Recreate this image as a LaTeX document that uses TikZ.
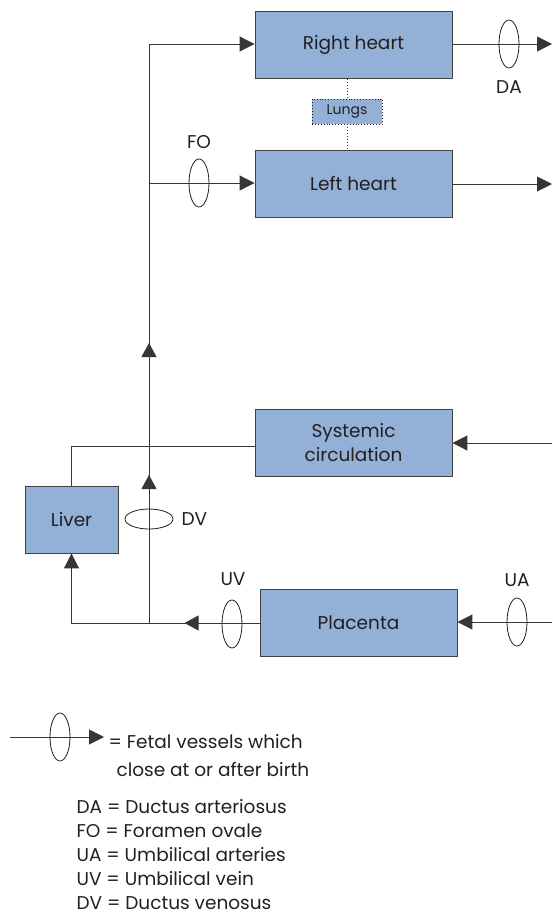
\documentclass[tikz,border=0pt]{standalone}
\usepackage{fontspec}
\setmainfont{Poppins}
\usetikzlibrary{arrows.meta,shapes.geometric,decorations.markings}

\definecolor{boxblue}{RGB}{147,176,214}
\definecolor{ink}{RGB}{35,31,32}

\begin{document}
\begin{tikzpicture}[
    x=1pt,
    y=-1pt,
    every node/.style={
        font=\fontsize{18.5}{24}\selectfont,
        text=ink
    },
    organ/.style={
        draw=ink!85,
        fill=boxblue,
        line width=0.9pt,
        inner sep=0pt,
        align=center,
        minimum width=197pt,
        minimum height=67pt
    },
    vessel/.style={
        draw=ink!90,
        line width=1pt
    },
    headed/.style={
        -{Triangle[length=15pt,width=15pt]}
    },
    midhead/.style={
        postaction={
            decorate,
            decoration={
                markings,
                mark=at position #1 with {\arrow{Triangle[length=14pt,width=15pt]}}
            }
        }
    },
    valve/.style={
        ellipse,
        draw=ink,
        line width=0.8pt,
        inner sep=0pt,
        minimum width=20pt,
        minimum height=48pt
    }
]

\useasboundingbox (0,0) rectangle (552,924);

% -------------------------------------------------
% Organs
% -------------------------------------------------

\node[organ] (rh) at (353.5,45) {Right heart};
\node[organ] (lh) at (353.5,183.5) {Left heart};
\node[organ, draw=ink, dotted, line width=0.8pt,
    minimum width=70pt, minimum height=25pt,
    font=\fontsize{14}{16}\selectfont] (lungs) at (347,111.5) {Lungs};
\node[organ] (sys) at (353.5,443) {Systemic\\circulation};
\node[organ, minimum width=93pt] (liver) at (71.5,519.5) {Liver};
\node[organ] (plac) at (358.5,622.5) {Placenta};

% -------------------------------------------------
% Corners and free ends
% -------------------------------------------------

\coordinate (top) at (149,44);
\coordinate (fo) at (149,183);
\coordinate (bot) at (149,623);
\coordinate (lcorner) at (71.5,623);
\coordinate (scorner) at (71.5,446);
\coordinate (rhout) at (552,44);
\coordinate (lhout) at (552,184);
\coordinate (sysin) at (552,443);
\coordinate (placin) at (552,622);

% -------------------------------------------------
% Vessels
% -------------------------------------------------

\draw[vessel, dotted] (rh.south -| lungs.north) -- (lungs.north);
\draw[vessel, dotted] (lungs.south) -- (lungs.south |- lh.north);

\draw[vessel, headed, midhead=148pt, midhead=280pt]
    (bot) -- (top) -- (rh.west |- top);
\draw[vessel, headed] (fo) -- (lh.west |- fo);

\draw[vessel, headed] (rh.east |- rhout) -- (rhout);
\draw[vessel, headed] (lh.east |- lhout) -- (lhout);

\draw[vessel, headed] (sysin) -- (sys.east |- sysin);
\draw[vessel] (sys.west |- scorner) -- (scorner) -- (liver.north);

\draw[vessel, headed] (placin) -- (plac.east |- placin);
\draw[vessel, headed, midhead=75pt]
    (plac.west |- bot) -- (lcorner) -- (liver.south);

% -------------------------------------------------
% Fetal shunts (valves) and their labels
% -------------------------------------------------

\node[valve] (da) at (509,44) {};
\node (dalabel) at (509,87) {DA};

\node[valve] (fov) at (199,183) {};
\node (folabel) at (199,142) {FO};

\node[valve, minimum width=48pt, minimum height=20pt] (dv) at (149,519) {};
\node[anchor=west] (dvlabel) at (178,519) {DV};

\node[valve] (uv) at (232,624) {};
\node (uvlabel) at (233,579) {UV};

\node[valve] (ua) at (517,622) {};
\node (ualabel) at (517,580) {UA};

% -------------------------------------------------
% Legend
% -------------------------------------------------

\coordinate (keystart) at (10,737);
\coordinate (keyend) at (104,737);
\draw[vessel, headed] (keystart) -- (keyend);
\node[valve] (keyvalve) at (60,737) {};

\node[anchor=north west, align=left,
    font=\fontsize{18.5}{28}\selectfont] (keytext) at (105,731)
    {= Fetal vessels which\\\hspace{8pt}close at or after birth};

\node[anchor=north west, align=left] (abbrev) at (73,796)
    {DA = Ductus arteriosus\\
     FO = Foramen ovale\\
     UA = Umbilical arteries\\
     UV = Umbilical vein\\
     DV = Ductus venosus};

\end{tikzpicture}
\end{document}
